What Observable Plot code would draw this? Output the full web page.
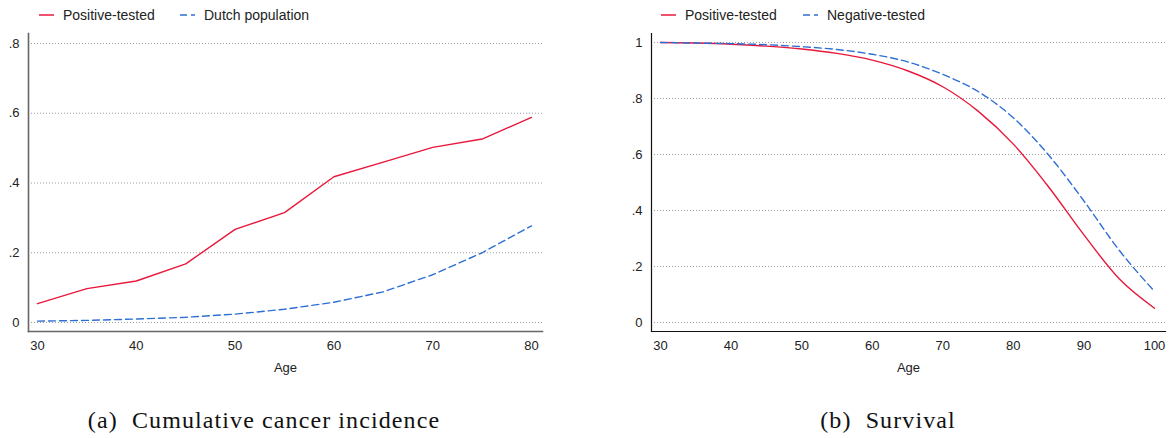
<!DOCTYPE html>
<html><head><meta charset="utf-8">
<script src="https://cdn.jsdelivr.net/npm/d3@7"></script>
<script src="https://cdn.jsdelivr.net/npm/@observablehq/plot@0.6"></script>
<style>
body{margin:0;background:#fff;}
#root{position:relative;width:1172px;height:438px;font-family:"Liberation Sans",Arial,sans-serif;color:#222;overflow:hidden;}
.panel{position:absolute;top:0;}
.item{position:absolute;top:8px;height:14px;line-height:14px;font-size:14px;display:flex;align-items:center;white-space:nowrap;}
.item svg{margin-right:9px;}
.cap{position:absolute;top:407px;font-family:"Liberation Serif",serif;font-size:24px;letter-spacing:1.1px;white-space:nowrap;transform:translateX(-50%);color:#111;}
</style></head>
<body><div id="root"></div>
<script>
// ---- data ----
const incidenceAges = [30, 35, 40, 45, 50, 55, 60, 65, 70, 75, 80];
const positiveIncidence = [0.054, 0.097, 0.119, 0.168, 0.267, 0.315, 0.418, 0.460, 0.502, 0.526, 0.588];
const dutchIncidence = [0.004, 0.006, 0.010, 0.015, 0.024, 0.038, 0.058, 0.088, 0.137, 0.200, 0.277];

const survivalAges = [30, 35, 40, 45, 50, 55, 60, 65, 70, 75, 80, 85, 90, 95, 100];
const positiveSurvival = [1.000, 0.998, 0.994, 0.987, 0.977, 0.961, 0.937, 0.899, 0.842, 0.755, 0.637, 0.484, 0.313, 0.156, 0.051];
const negativeSurvival = [1.000, 0.998, 0.996, 0.992, 0.985, 0.975, 0.958, 0.931, 0.886, 0.825, 0.731, 0.598, 0.434, 0.258, 0.111];

const incidenceYTicks = [0, 0.2, 0.4, 0.6, 0.8];
const incidenceXTicks = [30, 40, 50, 60, 70, 80];
const survivalYTicks = [0, 0.2, 0.4, 0.6, 0.8, 1];
const survivalXTicks = [30, 40, 50, 60, 70, 80, 90, 100];

const leftSeries = ["Positive-tested", "Dutch population"];
const rightSeries = ["Positive-tested", "Negative-tested"];
const captions = ["(a)\u00a0 Cumulative cancer incidence", "(b)\u00a0 Survival"];

const RED = "#e8183c", BLUE = "#2f6fd4";
const fmt = d => d === 0 ? "0" : d === 1 ? "1" : String(d).replace(/^0/, "");

const root = document.getElementById("root");

function rows(ages, vals, series) { return ages.map((a, i) => ({age: a, value: vals[i], series})); }

function makePanel(opts) {
  return Plot.plot({
    width: 586, height: 380,
    marginTop: 33, marginBottom: 49, marginLeft: opts.ml, marginRight: opts.mr,
    x: {domain: opts.xDomain, range: opts.xRange},
    y: {domain: opts.yDomain, range: opts.yRange},
    style: {fontFamily: "'Liberation Sans', Arial, sans-serif", fontSize: "13px", color: "#222", background: "transparent", overflow: "visible"},
    marks: [
      Plot.gridY(opts.yTicks, {stroke: "#9a9a9a", strokeOpacity: 1, strokeDasharray: "1,2", strokeWidth: 1}),
      Plot.frame({anchor: "left", stroke: opts.axisColor, strokeWidth: opts.axisWidth}),
      Plot.frame({anchor: "bottom", stroke: opts.axisColor, strokeWidth: opts.axisWidth}),
      Plot.axisY(opts.yTicks, {tickSize: 0, tickPadding: 9, tickFormat: fmt, label: null}),
      Plot.axisX(opts.xTicks, {tickSize: 0, tickPadding: 9, tickFormat: d => String(d), label: "Age", labelAnchor: "center", labelArrow: "none", labelOffset: 40, fontSize: 13}),
      Plot.line(opts.a, {x: "age", y: "value", stroke: RED, strokeWidth: 1.4, curve: opts.curve}),
      Plot.line(opts.b, {x: "age", y: "value", stroke: BLUE, strokeWidth: 1.4, strokeDasharray: "7,4", curve: opts.curve})
    ]
  });
}

const left = makePanel({
  ml: 28, mr: 44, xDomain: [30, 80], xRange: [37, 531], yDomain: [0, 0.8], yRange: [322, 43],
  yTicks: incidenceYTicks, xTicks: incidenceXTicks, axisColor: "#666", axisWidth: 1.6, curve: "linear",
  a: rows(incidenceAges, positiveIncidence, leftSeries[0]),
  b: rows(incidenceAges, dutchIncidence, leftSeries[1])
});
left.classList.add("panel"); left.style.left = "0px";
root.appendChild(left);

const right = makePanel({
  ml: 65, mr: 7, xDomain: [30, 100], xRange: [74, 568], yDomain: [0, 1], yRange: [322, 42],
  yTicks: survivalYTicks, xTicks: survivalXTicks, axisColor: "#111", axisWidth: 1.2, curve: "monotone-x",
  a: rows(survivalAges, positiveSurvival, rightSeries[0]),
  b: rows(survivalAges, negativeSurvival, rightSeries[1])
});
right.classList.add("panel"); right.style.left = "586px";
root.appendChild(right);

function legendItem(x, label, color, dash) {
  const d = document.createElement("div");
  d.className = "item"; d.style.left = x + "px";
  d.innerHTML = `<svg width="15" height="10"><line x1="0" x2="15" y1="5" y2="5" stroke="${color}" stroke-width="1.5" ${dash ? 'stroke-dasharray="7,4"' : ''}/></svg><span>${label}</span>`;
  root.appendChild(d);
}
legendItem(39, leftSeries[0], RED, false);
legendItem(180, leftSeries[1], BLUE, true);
legendItem(661, rightSeries[0], RED, false);
legendItem(803, rightSeries[1], BLUE, true);

[[264, captions[0]], [888, captions[1]]].forEach(([x, t]) => {
  const c = document.createElement("div");
  c.className = "cap"; c.style.left = x + "px"; c.textContent = t;
  root.appendChild(c);
});
</script></body></html>
